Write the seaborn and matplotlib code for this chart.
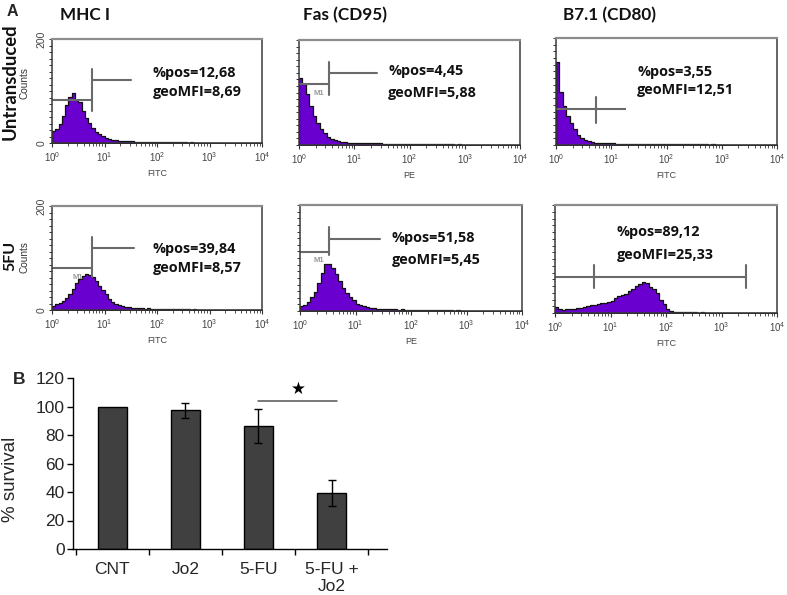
import numpy as np
import pandas as pd
import matplotlib
matplotlib.use("Agg")
import matplotlib.pyplot as plt
from matplotlib.ticker import FixedLocator, LogLocator, NullFormatter, MultipleLocator
import seaborn as sns

# ---------------- data ----------------
markers = ["MHC I", "Fas (CD95)", "B7.1 (CD80)"]
channels = ["FITC", "PE", "FITC"]
conditions = ["Untransduced", "5FU"]
pct_pos = [["12,68", "4,45", "3,55"], ["39,84", "51,58", "89,12"]]
geo_mfi = [["8,69", "5,88", "12,51"], ["8,57", "5,45", "25,33"]]

# counts per channel, 16 channels per decade (10^0 .. 10^4)
hist_mhc_untr = [23, 27, 37, 52, 73, 88, 97, 82, 78, 62, 48, 38, 29, 22, 17, 13,
                 10, 8, 6, 5, 4, 4, 3, 3, 3, 2, 2, 2, 2, 2, 2, 2,
                 1, 2, 1, 1, 2, 1, 1, 1, 1, 0, 1, 0, 0, 0, 0, 0,
                 0, 0, 0, 0, 0, 0, 0, 0, 0, 0, 0, 0, 0, 0, 0, 0]
hist_fas_untr = [127, 116, 97, 74, 56, 42, 31, 22, 16, 12, 9, 7, 6, 5, 4, 4,
                 3, 3, 3, 3, 3, 3, 3, 3, 2, 2, 2, 2, 2, 2, 2, 2,
                 2, 2, 1, 2, 1, 1, 2, 1, 1, 1, 1, 1, 1, 0, 1, 0,
                 0, 0, 0, 0, 0, 0, 0, 0, 0, 0, 0, 0, 0, 0, 0, 0]
hist_b7_untr = [155, 100, 72, 54, 41, 29, 19, 13, 9, 7, 5, 4, 4, 3, 3, 3,
                3, 2, 2, 2, 2, 2, 2, 2, 2, 2, 2, 2, 2, 2, 2, 2,
                2, 2, 1, 2, 1, 1, 1, 1, 1, 1, 1, 1, 0, 1, 0, 0,
                0, 0, 0, 0, 0, 0, 0, 0, 0, 0, 0, 0, 0, 0, 0, 0]
hist_mhc_5fu = [8, 11, 14, 18, 24, 31, 40, 51, 60, 65, 69, 68, 63, 55, 47, 38,
                30, 21, 15, 11, 9, 7, 6, 5, 4, 4, 3, 3, 2, 3, 2, 2,
                2, 2, 2, 1, 2, 1, 1, 1, 1, 1, 0, 1, 0, 0, 0, 0,
                0, 0, 0, 0, 0, 0, 0, 0, 0, 0, 0, 0, 0, 0, 0, 0]
hist_fas_5fu = [9, 12, 17, 26, 36, 52, 71, 88, 88, 82, 70, 56, 44, 34, 26, 20,
                14, 11, 9, 7, 6, 5, 4, 4, 3, 3, 3, 3, 2, 3, 2, 2,
                2, 2, 2, 2, 1, 2, 1, 1, 1, 1, 1, 1, 0, 1, 0, 0,
                0, 0, 0, 0, 0, 0, 0, 0, 0, 0, 0, 0, 0, 0, 0, 0]
hist_b7_5fu = [11, 7, 6, 7, 7, 8, 9, 10, 11, 13, 14, 15, 17, 18, 19, 21,
               22, 27, 31, 33, 36, 40, 45, 50, 54, 57, 55, 48, 44, 37, 25, 16,
               8, 4, 2, 2, 1, 1, 1, 1, 1, 0, 1, 0, 0, 0, 0, 0,
               0, 0, 0, 0, 0, 0, 0, 0, 0, 0, 0, 0, 0, 0, 0, 0]
hist_counts = [[hist_mhc_untr, hist_fas_untr, hist_b7_untr],
               [hist_mhc_5fu, hist_fas_5fu, hist_b7_5fu]]

# marker gates
gate_end = [[5.9, 3.47, 18.2], [5.75, 3.4, 2750]]
gate_level = [[82, 116, 68], [80, 112, 67]]
gate_end_tick = [[True, True, False], [True, True, True]]
gate_tick_lo = [[61, 95, 42], [64, 106, 46]]
gate_tick_hi = [[142, 159, 89], [140, 159, 88]]
gate_mid = [[None, None, 5.25], [None, None, 5.0]]
callout_level = [[121, 138, None], [119, 135, None]]
callout_end = [[32.4, 26.3, None], [36.3, 28.2, None]]
m1_pos = [[None, (2.3, 98), None], [(3.1, 63), (2.15, 96), None]]

treatments = ["CNT", "Jo2", "5-FU", "5-FU +\nJo2"]
survival = [100, 97.5, 86, 39]
survival_err = [0, 5.3, 11.9, 9.1]
sig_pair = (2, 3.08)
sig_level = 104

# ---------------- style ----------------
sns.set_theme(style="ticks")
plt.rcParams["font.family"] = ["Liberation Sans", "DejaVu Sans"]
plt.rcParams["mathtext.fontset"] = "custom"
plt.rcParams["mathtext.rm"] = "Liberation Sans"
plt.rcParams["mathtext.it"] = "Liberation Sans:italic"
plt.rcParams["mathtext.bf"] = "Liberation Sans:bold"

PURPLE = "#6A00D0"
W, H = 787, 595


def rect(l, t, r, b):
    return [l / W, 1 - b / H, (r - l) / W, (b - t) / H]


hist_rects = [[(52, 39, 262, 143), (299, 40, 520, 145), (556, 38, 777, 145)],
              [(52, 206, 262, 310), (300, 205, 522, 311), (555, 205, 777, 313)]]
text_pos = [[(0.48, 0.67, 0.49), (0.404, 0.70, 0.50), (0.368, 0.68, 0.51)],
            [(0.48, 0.585, 0.40), (0.413, 0.69, 0.48), (0.278, 0.75, 0.54)]]
counts_label_y = [0.58, 0.51]

fig = plt.figure(figsize=(7.87, 5.95), dpi=100)

channel_centers = 10 ** ((np.arange(64) + 0.5) / 16)

for r in range(2):
    for c in range(3):
        ax = fig.add_axes(rect(*hist_rects[r][c]))
        df = pd.DataFrame({"intensity": channel_centers, "count": hist_counts[r][c]})
        sns.histplot(data=df, x="intensity", weights="count", binwidth=1 / 16,
                     binrange=(0, 4), log_scale=True, element="step", fill=True,
                     color=PURPLE, alpha=1, edgecolor="#111111", linewidth=0.9,
                     ax=ax)
        ax.set_xlim(1, 1e4)
        ax.set_ylim(0, 200)
        # gate
        gc = "#6a6a6a"
        ax.plot([1, gate_end[r][c]], [gate_level[r][c]] * 2, color=gc, lw=1.5,
                solid_capstyle="butt")
        if gate_end_tick[r][c]:
            ax.plot([gate_end[r][c]] * 2, [gate_tick_lo[r][c], gate_tick_hi[r][c]],
                    color=gc, lw=1.5)
        if gate_mid[r][c] is not None:
            ax.plot([gate_mid[r][c]] * 2, [gate_tick_lo[r][c], gate_tick_hi[r][c]],
                    color=gc, lw=1.5)
        if callout_level[r][c] is not None:
            ax.plot([gate_end[r][c], callout_end[r][c]], [callout_level[r][c]] * 2,
                    color=gc, lw=1.5)
        if m1_pos[r][c] is not None:
            ax.text(m1_pos[r][c][0], m1_pos[r][c][1], "M1", fontsize=5.5,
                    color="#9a9a9a", ha="center", va="center", fontweight="bold")
        # statistics text
        tx, ty1, ty2 = text_pos[r][c]
        ax.text(tx, ty1, "%pos=" + pct_pos[r][c], transform=ax.transAxes,
                family="Open Sans", fontweight="bold", fontsize=10.4, va="center",
                ha="left", color="#111111")
        ax.text(tx, ty2, "geoMFI=" + geo_mfi[r][c], transform=ax.transAxes,
                family="Open Sans", fontweight="bold", fontsize=10.4, va="center",
                ha="left", color="#111111")
        # axes styling
        for side in ["left", "bottom", "right"]:
            ax.spines[side].set_color("#3a3a3a")
            ax.spines[side].set_linewidth(1.1)
        ax.spines["top"].set_color("#8c8c8c")
        ax.spines["top"].set_linewidth(1.6)
        ax.xaxis.set_major_locator(FixedLocator([1, 10, 100, 1000, 10000]))
        ax.xaxis.set_minor_locator(LogLocator(base=10, subs=np.arange(2, 10)))
        ax.xaxis.set_minor_formatter(NullFormatter())
        ax.yaxis.set_major_locator(FixedLocator([0, 200]))
        ax.yaxis.set_minor_locator(MultipleLocator(12.5))
        ax.tick_params(axis="x", which="major", direction="out", length=3,
                       width=0.8, color="#333333", labelsize=7, labelcolor="#444444",
                       pad=2.5)
        ax.tick_params(axis="x", which="minor", direction="out", length=2,
                       width=0.6, color="#333333")
        ax.tick_params(axis="y", which="both", direction="out", length=2,
                       width=0.7, color="#333333")
        ax.set_xlabel(channels[c], fontsize=6.5, color="#444444", labelpad=3)
        if c == 0:
            ax.set_yticklabels(["0", "200"], rotation=90, va="center", fontsize=7.5,
                               color="#444444")
            ax.tick_params(axis="y", which="major", pad=2)
            ax.set_ylabel("Counts", fontsize=7.2, color="#333333")
            ax.yaxis.set_label_coords(-0.105, counts_label_y[r])
        else:
            ax.set_yticklabels([])
            ax.set_ylabel("")

# column titles
title_x = [60, 303, 563]
for c in range(3):
    fig.text(title_x[c] / W, 1 - 15 / H, markers[c], family="Lato",
             fontweight="bold", fontsize=12.3, ha="left", va="center", color="#111111")
# row labels
fig.text(10 / W, 1 - 82 / H, conditions[0], family="Lato", fontweight="bold",
         fontsize=13.3, rotation=90, ha="center", va="center", color="#111111")
fig.text(10 / W, 1 - 256 / H, conditions[1], family="Lato", fontweight="bold",
         fontsize=11.5, rotation=90, ha="center", va="center", color="#111111")
# panel letters
fig.text(12 / W, 1 - 12 / H, "A", fontweight="bold", fontsize=11.5, ha="center",
         va="center")
fig.text(19 / W, 1 - 379 / H, "B", fontweight="bold", fontsize=12.5, ha="center",
         va="center")

# ---------------- panel B ----------------
axb = fig.add_axes(rect(73, 378, 387, 549))
surv_df = pd.DataFrame({"treatment": treatments, "survival": survival})
sns.barplot(data=surv_df, x="treatment", y="survival", color="#404040",
            edgecolor="black", linewidth=1, width=0.4, saturation=1,
            errorbar=None, ax=axb)
err_idx = [i for i, e in enumerate(survival_err) if e > 0]
axb.errorbar(x=err_idx, y=[survival[i] for i in err_idx],
             yerr=[survival_err[i] for i in err_idx],
             fmt="none", ecolor="black", elinewidth=1, capsize=3, capthick=1)
axb.plot(list(sig_pair), [sig_level, sig_level], color="#555555", lw=1.1)
axb.text(np.mean(sig_pair), sig_level + 8, "★", family="DejaVu Sans",
         fontsize=12, ha="center", va="center", color="black")
axb.set_xlim(-0.54, 3.76)
axb.set_ylim(0, 120)
axb.yaxis.set_major_locator(MultipleLocator(20))
axb.set_xlabel("")
axb.set_ylabel("% survival", fontsize=13.5)
axb.yaxis.set_label_coords(-0.172, 0.41)
sns.despine(ax=axb)
for side in ["left", "bottom"]:
    axb.spines[side].set_color("black")
    axb.spines[side].set_linewidth(1)
axb.xaxis.set_minor_locator(FixedLocator([-0.5, 0.5, 1.5, 2.5, 3.5]))
axb.tick_params(axis="x", which="major", length=0, pad=9, labelsize=12.5)
axb.tick_params(axis="x", which="minor", length=4, width=1, color="black",
                direction="out")
axb.tick_params(axis="y", which="major", length=4, width=1, color="black",
                direction="out", labelsize=12.5, pad=2)

fig.savefig("out.png", dpi=100)
